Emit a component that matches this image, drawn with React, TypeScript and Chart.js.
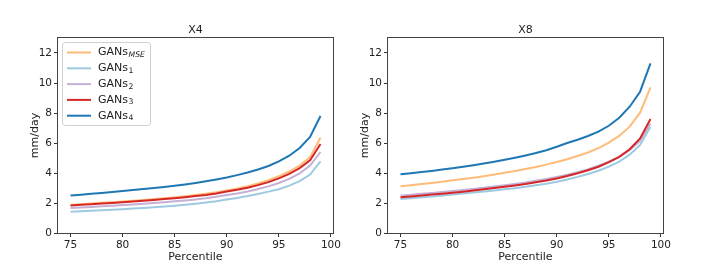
import React, { useEffect, useRef } from "react";
import { Chart, registerables } from "chart.js";

Chart.register(...registerables);

const percentiles = [75, 76, 77, 78, 79, 80, 81, 82, 83, 84, 85, 86, 87, 88, 89, 90, 91, 92, 93, 94, 95, 96, 97, 98, 99];
const xTicks = [75, 80, 85, 90, 95, 100];
const yTicks = [0, 2, 4, 6, 8, 10, 12];
const panelTitles = ["X4", "X8"];
const xAxisTitle = "Percentile";
const yAxisTitle = "mm/day";
const seriesBase = "GANs";
const seriesSubs = ["MSE", "1", "2", "3", "4"];
const seriesColors = ["#ffbb78", "#9ecae1", "#c5b0d5", "#d62728", "#1f77b4"];

// X4 panel
const x4MSE = [1.88, 1.92, 1.96, 2.01, 2.05, 2.10, 2.15, 2.20, 2.26, 2.32, 2.38, 2.45, 2.53, 2.62, 2.72, 2.84, 2.97, 3.12, 3.30, 3.52, 3.78, 4.10, 4.50, 5.05, 6.37];
const x4G1 = [1.42, 1.45, 1.48, 1.52, 1.55, 1.59, 1.63, 1.67, 1.72, 1.77, 1.82, 1.88, 1.95, 2.03, 2.12, 2.23, 2.34, 2.46, 2.60, 2.76, 2.92, 3.16, 3.46, 3.90, 4.77];
const x4G2 = [1.67, 1.70, 1.74, 1.78, 1.82, 1.86, 1.90, 1.95, 2.00, 2.05, 2.11, 2.17, 2.24, 2.32, 2.42, 2.53, 2.64, 2.77, 2.93, 3.11, 3.33, 3.61, 3.98, 4.50, 5.40];
const x4G3 = [1.84, 1.88, 1.92, 1.96, 2.00, 2.05, 2.10, 2.15, 2.20, 2.26, 2.32, 2.39, 2.46, 2.54, 2.64, 2.76, 2.88, 3.02, 3.19, 3.39, 3.64, 3.94, 4.33, 4.85, 5.93];
const x4G4 = [2.50, 2.55, 2.61, 2.67, 2.73, 2.80, 2.86, 2.93, 3.00, 3.07, 3.15, 3.24, 3.34, 3.45, 3.57, 3.70, 3.86, 4.03, 4.23, 4.47, 4.77, 5.15, 5.67, 6.40, 7.80];

// X8 panel
const x8MSE = [3.11, 3.18, 3.26, 3.34, 3.42, 3.51, 3.60, 3.69, 3.79, 3.90, 4.01, 4.13, 4.26, 4.40, 4.56, 4.73, 4.92, 5.13, 5.37, 5.66, 6.02, 6.47, 7.09, 8.02, 9.71];
const x8G1 = [2.27, 2.32, 2.38, 2.44, 2.50, 2.57, 2.63, 2.70, 2.77, 2.84, 2.91, 2.99, 3.08, 3.18, 3.29, 3.42, 3.57, 3.74, 3.93, 4.15, 4.42, 4.76, 5.22, 5.87, 7.09];
const x8G2 = [2.49, 2.55, 2.61, 2.67, 2.73, 2.80, 2.87, 2.94, 3.02, 3.10, 3.18, 3.27, 3.37, 3.48, 3.60, 3.74, 3.89, 4.06, 4.25, 4.48, 4.75, 5.08, 5.52, 6.15, 7.30];
const x8G3 = [2.38, 2.44, 2.50, 2.56, 2.62, 2.68, 2.75, 2.83, 2.91, 3.00, 3.08, 3.17, 3.27, 3.38, 3.50, 3.64, 3.80, 3.98, 4.18, 4.42, 4.72, 5.08, 5.58, 6.31, 7.60];
const x8G4 = [3.91, 3.98, 4.06, 4.14, 4.23, 4.32, 4.42, 4.52, 4.63, 4.75, 4.88, 5.02, 5.17, 5.33, 5.52, 5.75, 6.00, 6.22, 6.47, 6.76, 7.15, 7.68, 8.42, 9.42, 11.31];

const panelSeries = [
  [x4MSE, x4G1, x4G2, x4G3, x4G4],
  [x8MSE, x8G1, x8G2, x8G3, x8G4],
];

const FONT = "'DejaVu Sans', sans-serif";
const TEXT = "#222";

const decorPlugin = {
  id: "decor",
  afterDraw(chart: any, _args: any, opts: any) {
    const { ctx, chartArea: a } = chart;
    ctx.save();
    // frame
    ctx.strokeStyle = "#444";
    ctx.lineWidth = 1;
    ctx.strokeRect(Math.round(a.left) - 0.5, Math.round(a.top) - 0.5, Math.round(a.right - a.left) + 1, Math.round(a.bottom - a.top) + 1);
    // title
    ctx.fillStyle = TEXT;
    ctx.font = `11px ${FONT}`;
    ctx.textAlign = "center";
    ctx.textBaseline = "middle";
    const cx = (a.left + a.right) / 2;
    ctx.fillText(opts.title, cx, 30);
    ctx.fillText(xAxisTitle, cx, 257);
    ctx.save();
    ctx.translate(a.left - 22.5, (a.top + a.bottom) / 2);
    ctx.rotate(-Math.PI / 2);
    ctx.fillText(yAxisTitle, 0, 0);
    ctx.restore();

    if (opts.showLegend) {
      const bx = a.left + 4;
      const by = a.top + 4;
      const bw = 88;
      const bh = 83;
      ctx.beginPath();
      ctx.roundRect(bx + 0.5, by + 0.5, bw, bh, 3);
      ctx.fillStyle = "rgba(255,255,255,0.8)";
      ctx.fill();
      ctx.strokeStyle = "#d0d0d0";
      ctx.lineWidth = 1;
      ctx.stroke();
      for (let i = 0; i < seriesSubs.length; i++) {
        const y = by + 10.5 + i * 15.8;
        ctx.strokeStyle = seriesColors[i];
        ctx.lineWidth = 2;
        ctx.beginPath();
        ctx.moveTo(bx + 5, y);
        ctx.lineTo(bx + 29, y);
        ctx.stroke();
        ctx.fillStyle = TEXT;
        ctx.textAlign = "left";
        ctx.textBaseline = "middle";
        ctx.font = `11px ${FONT}`;
        const tx = bx + 36;
        ctx.fillText(seriesBase, tx, y);
        const w = ctx.measureText(seriesBase).width;
        const sub = seriesSubs[i];
        const isNum = /^\d+$/.test(sub);
        ctx.font = `${isNum ? "" : "italic "}7.7px ${FONT}`;
        ctx.fillText(sub, tx + w + 0.5, y + 2.5);
      }
    }
    ctx.restore();
  },
};

function Panel({ index, left }: { index: number; left: number }) {
  const ref = useRef<HTMLCanvasElement | null>(null);
  useEffect(() => {
    if (!ref.current) return;
    const series = panelSeries[index];
    const chart = new Chart(ref.current, {
      type: "line",
      data: {
        datasets: series.map((vals, i) => ({
          label: seriesBase + seriesSubs[i],
          data: percentiles.map((p, j) => ({ x: p, y: vals[j] })),
          borderColor: seriesColors[i],
          backgroundColor: seriesColors[i],
          borderWidth: 2,
          pointRadius: 0,
          tension: 0,
          fill: false,
          order: series.length - i,
        })),
      },
      options: {
        animation: false,
        responsive: false,
        devicePixelRatio: 1,
        layout: { padding: { left: 0, top: 38, right: 17, bottom: 0 } },
        plugins: {
          legend: { display: false },
          title: { display: false },
          tooltip: { enabled: false },
          decor: { title: panelTitles[index], showLegend: index === 0 },
        } as any,
        scales: {
          x: {
            type: "linear",
            min: 73.8,
            max: 100.2,
            afterBuildTicks: (s: any) => {
              s.ticks = xTicks.map((v) => ({ value: v }));
            },
            afterFit: (s: any) => {
              s.height = 42;
            },
            grid: { drawOnChartArea: false, drawTicks: true, tickLength: 4, tickColor: "#333", color: "#333" },
            border: { display: false },
            ticks: { color: TEXT, font: { family: FONT, size: 10.5 }, padding: 2, maxRotation: 0, autoSkip: false },
          },
          y: {
            type: "linear",
            min: 0,
            max: 13,
            afterBuildTicks: (s: any) => {
              s.ticks = yTicks.map((v) => ({ value: v }));
            },
            afterFit: (s: any) => {
              s.width = 58;
            },
            grid: { drawOnChartArea: false, drawTicks: true, tickLength: 4, tickColor: "#333", color: "#333" },
            border: { display: false },
            ticks: { color: TEXT, font: { family: FONT, size: 10.5 }, padding: 2, autoSkip: false },
          },
        },
      },
      plugins: [decorPlugin],
    });
    return () => chart.destroy();
  }, [index]);
  return (
    <canvas
      ref={ref}
      width={350}
      height={275}
      style={{ position: "absolute", left, top: 0, width: 350, height: 275 }}
    />
  );
}

export default function App() {
  return (
    <div style={{ position: "absolute", left: 0, top: 0, width: 716, height: 275, background: "#fff" }}>
      <Panel index={0} left={0} />
      <Panel index={1} left={330} />
    </div>
  );
}
